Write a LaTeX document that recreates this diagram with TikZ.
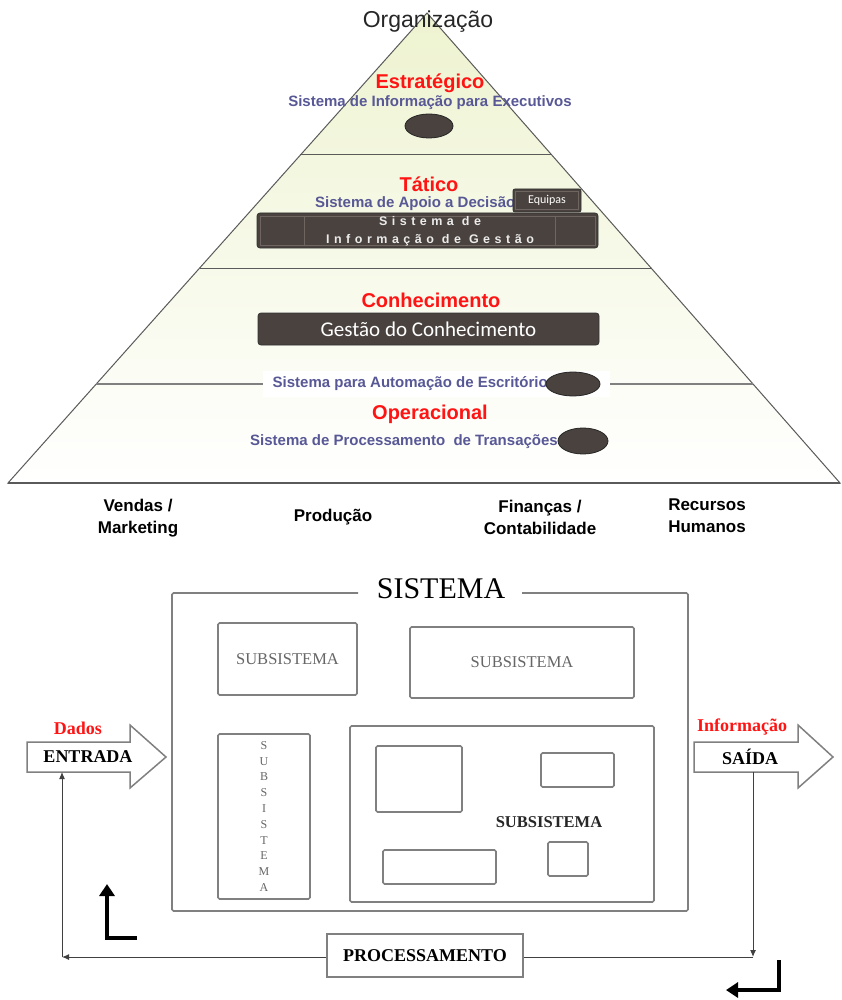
\documentclass[tikz,border=0pt]{standalone}
\usepackage{fontspec}
\setmainfont{Liberation Serif}
\setsansfont{Liberation Sans}
\newfontfamily\calfont{Carlito}
\usetikzlibrary{shapes.geometric,arrows.meta,calc}

\definecolor{cream}{RGB}{238,243,208}
\definecolor{darkfill}{RGB}{74,66,63}
\definecolor{darkedge}{RGB}{110,101,97}
\definecolor{lvlred}{RGB}{255,20,20}
\definecolor{sysblue}{RGB}{88,88,150}
\definecolor{boxgray}{RGB}{128,128,128}
\definecolor{edgegray}{RGB}{90,90,90}

\newcommand{\pxfont}[2]{\fontsize{#1}{#2}\selectfont}

\tikzset{
  level/.style={font=\sffamily\bfseries\pxfont{20}{24}, text=lvlred, inner sep=0},
  sysname/.style={font=\sffamily\bfseries\pxfont{15}{18}, text=sysblue, inner sep=0},
  blob/.style={ellipse, draw=black!85, line width=0.8, fill=darkfill, inner sep=0},
  dept/.style={font=\sffamily\bfseries\pxfont{17}{22}, align=center, inner sep=0},
  sysbox/.style={draw=boxgray, line width=1.6, rounded corners=1.5},
  subbox/.style={sysbox, inner sep=0},
  subtxt/.style={font=\pxfont{16.5}{18}, text=black!60},
  flow/.style={draw=black!75, line width=1},
  bigarrow/.style={draw=boxgray, line width=1.5, fill=white, line join=miter},
  bent/.style={line width=4, line join=miter, -{Triangle[length=12pt,width=15pt]}},
  fbtip/.style={-{Latex[length=7pt,width=6pt]}}
}

\begin{document}
\begin{tikzpicture}[x=1pt,y=-1pt]
\useasboundingbox (0,0) rectangle (842,1000);

% ---------- pyramid of organisational levels ----------
\coordinate (apex) at (427,13);
\coordinate (bl) at (8,483);
\coordinate (br) at (840,483);
\shadedraw[top color=cream, middle color=cream!45!white, bottom color=white,
  draw=edgegray, line width=1] (apex) -- (bl) -- (br) -- cycle;

\coordinate (l1) at ($(apex)!0.30213!(bl)$);
\coordinate (r1) at ($(apex)!0.30213!(br)$);
\coordinate (l2) at ($(apex)!0.54255!(bl)$);
\coordinate (r2) at ($(apex)!0.54255!(br)$);
\coordinate (l3) at ($(apex)!0.78936!(bl)$);
\coordinate (r3) at ($(apex)!0.78936!(br)$);
\draw[edgegray, line width=1] (l1) -- (r1);
\draw[edgegray, line width=1] (l2) -- (r2);
\draw[boxgray, line width=1.3] (l3) -- (r3);
\fill[white] (263,371) rectangle (610,397);
\draw[edgegray, line width=1.2] (bl) -- (br);

\node[font=\sffamily\pxfont{23}{26}, text=black!85, inner sep=0] (org) at (428,22) {Organização};

% strategic level
\node[level] (est) at (430,83) {Estratégico};
\node[sysname] (sie) at (430,103) {Sistema de Informação para Executivos};
\node[blob, minimum width=48, minimum height=24] (eis) at (429,126) {};

% tactical level
\node[level] (tat) at (429,184) {Tático};
\node[sysname, anchor=west] (sad) at (315,204) {Sistema de Apoio a Decisão};
\node[fill=darkfill, draw=black!80, line width=0.8, rounded corners=2,
      minimum width=68, minimum height=23, inner sep=0] (equipas) at (547,200.5) {};
\draw[darkedge, line width=0.8] ($(equipas.south west)+(3,-3)$) rectangle ($(equipas.north east)+(-3,3)$);
\node[text=white, font=\calfont\pxfont{12}{14}, inner sep=0] (eqt) at (equipas.center) {Equipas};

\node[fill=darkfill, draw=black!80, line width=0.8, rounded corners=3,
      minimum width=341, minimum height=35, inner sep=0] (sig) at (427.5,230.5) {};
\draw[darkedge, line width=0.8] (260,216) rectangle (304,245);
\draw[darkedge, line width=0.8] (304,216) rectangle (555,245);
\draw[darkedge, line width=0.8] (555,216) rectangle (595,245);
\node[text=white!92!black, align=center, inner sep=0,
      font=\sffamily\bfseries\pxfont{12.5}{18}\addfontfeature{LetterSpace=36}] (sigt) at (430,231)
      {Sistema de\\Informação de Gestão};

% knowledge level
\node[level] (con) at (431,300) {Conhecimento};
\node[fill=darkfill, draw=black!80, line width=0.8, rounded corners=3,
      minimum width=341, minimum height=32, inner sep=0, text=white,
      font=\calfont\pxfont{21}{24}] (gc) at (428.5,329) {Gestão do Conhecimento};

\node[sysname, anchor=east] (sae) at (548,384) {Sistema para Automação de Escritório};
\node[blob, minimum width=54, minimum height=24] (eoa) at (573,384) {};

% operational level
\node[level] (ope) at (430,414) {Operacional};
\node[sysname, anchor=east] (spt) at (558,442) {Sistema de Processamento\ \ de Transações};
\node[blob, minimum width=50, minimum height=26] (etp) at (583,441) {};

% functional areas
\node[dept] (ven) at (138,518) {Vendas /\\Marketing};
\node[dept] (pro) at (333,517) {Produção};
\node[dept] (fin) at (540,517) {Finanças /\\Contabilidade};
\node[dept] (rec) at (707,516) {Recursos\\Humanos};

% ---------- system with subsystems ----------
\draw[sysbox] (358,593) -- (172,593) -- (172,911) -- (688,911) -- (688,593) -- (522,593);
\node[font=\pxfont{30}{32}, inner sep=0] (sis) at (441,589) {SISTEMA};

\node[subbox, subtxt, minimum width=139, minimum height=72] (sub1) at (287.5,659) {SUBSISTEMA};
\node[subbox, subtxt, minimum width=224, minimum height=71] (sub2) at (522,662.5) {SUBSISTEMA};
\node[subbox, minimum width=92, minimum height=165, text=black!60, align=center,
      font=\pxfont{12}{15.8}] (sub3) at (264,816.5)
      {S\\U\\B\\S\\I\\S\\T\\E\\M\\A};
\node[subbox, minimum width=304, minimum height=176] (sub4) at (502,814) {};
\node[subbox, minimum width=86, minimum height=66] (p1) at (419,779) {};
\node[subbox, minimum width=73, minimum height=34] (p2) at (577.5,770) {};
\node[subbox, minimum width=113, minimum height=34] (p3) at (439.5,867) {};
\node[subbox, minimum width=40, minimum height=34] (p4) at (568,859) {};
\node[font=\bfseries\pxfont{16.5}{18}, text=black!85, inner sep=0] (sub4t) at (549,822) {SUBSISTEMA};

% input and output arrows
\draw[bigarrow] (27,742) -- (130,742) -- (130,725) -- (166,757) -- (130,788) -- (130,772) -- (27,772) -- cycle;
\draw[bigarrow] (694,742) -- (798,742) -- (798,725) -- (833,757) -- (798,788) -- (798,772) -- (694,772) -- cycle;
\node[font=\bfseries\pxfont{18}{20}, text=lvlred, inner sep=0] (dad) at (78,728) {Dados};
\node[font=\bfseries\pxfont{18}{20}, inner sep=0] (ent) at (88,757) {ENTRADA};
\node[font=\bfseries\pxfont{18}{20}, text=lvlred, inner sep=0] (inf) at (742,727) {Informação};
\node[font=\bfseries\pxfont{18}{20}, inner sep=0] (sai) at (750,757) {SAÍDA};

% feedback loop through processing
\coordinate (outB) at (753,772);
\coordinate (inB) at (62,772);
\coordinate (cR) at (753,957);
\coordinate (cL) at (62,957);
\node[draw=boxgray, line width=1.6, minimum width=196, minimum height=43, inner sep=0,
      font=\bfseries\pxfont{18}{20}] (proc) at (425,955.5) {PROCESSAMENTO};
\draw[flow, fbtip] (outB) -- (cR);
\draw[flow] (cR) -- (proc.east |- cR);
\draw[flow, fbtip] (proc.west |- cL) -- (cL);
\draw[flow, fbtip] (cL) -- (inB);

% bent direction marks
\coordinate (la) at (137,938);
\coordinate (lb) at (107,938);
\coordinate (lc) at (107,884);
\draw[bent] (la) -- (lb) -- (lc);
\coordinate (ra) at (779,960);
\coordinate (rb) at (779,990);
\coordinate (rc) at (726,990);
\draw[bent] (ra) -- (rb) -- (rc);
\end{tikzpicture}
\end{document}
